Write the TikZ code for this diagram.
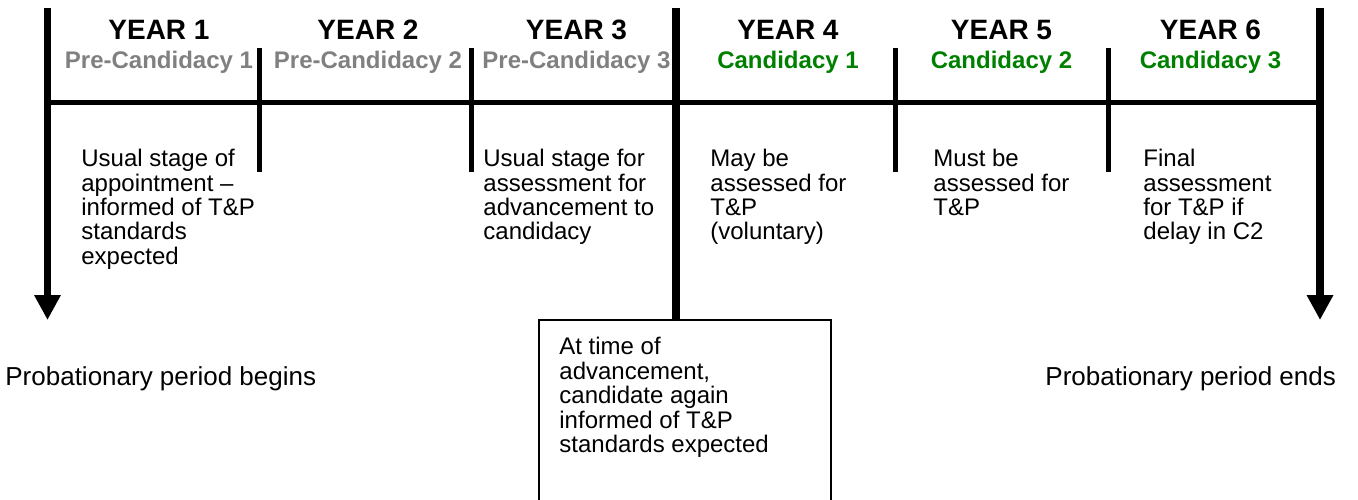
\documentclass[tikz,border=0pt]{standalone}
\usepackage{fontspec}
\setmainfont{Liberation Sans}
\usetikzlibrary{arrows.meta}
\definecolor{pregray}{RGB}{128,128,128}
\definecolor{candgreen}{RGB}{0,128,0}
\tikzset{
    every node/.style={inner sep=0pt}
}
\tikzset{
    yearlabel/.style={anchor=base, font=\bfseries\fontsize{14}{16}\selectfont},
    phaselabel/.style={anchor=base, font=\bfseries\fontsize{12}{14}\selectfont},
    note/.style={anchor=north west, align=left, font=\fontsize{12}{12.2}\selectfont},
    endlabel/.style={anchor=base west, font=\fontsize{13}{15}\selectfont},
    axis/.style={line width=3.75pt, -{Triangle[length=12.5pt,width=12.5pt]}},
    tick/.style={line width=2.5pt}
}

\begin{document}
\begin{tikzpicture}[x=0.5pt, y=-0.5pt]
  \useasboundingbox (0,0) rectangle (1358,499);
  \clip (0,0) rectangle (1358,499);

  \coordinate (start top) at (47.5,8);
  \coordinate (start tip) at (47.5,320);
  \coordinate (end top) at (1320,8);
  \coordinate (end tip) at (1320,320);
  \coordinate (mid top) at (676,8);
  \coordinate (line left) at (47.5,102);
  \coordinate (line right) at (1320,102);

  \node (adv) [draw, line width=1pt, minimum width=146pt, minimum height=120pt,
    anchor=north west] at (538,319) {};
  \node (advtext) [note] at (559,337) {At time of\\advancement,\\candidate again\\informed of T\&P\\standards expected};

  \draw [axis] (start top) -- (start tip);
  \draw [axis] (end top) -- (end tip);
  \draw [line width=3.75pt] (mid top) -- (mid top |- adv.north);
  \draw [tick] (line left) -- (line right);

  \foreach \x/\n in {259.5/1, 471.5/2, 895.5/3, 1108.5/4} {
    \coordinate (d\n a) at (\x,48);
    \coordinate (d\n b) at (\x,172);
    \draw [tick] (d\n a) -- (d\n b);
  }

  \foreach \x/\n/\c/\p in {159/1/pregray/Pre-Candidacy 1, 368/2/pregray/Pre-Candidacy 2,
      576.5/3/pregray/Pre-Candidacy 3, 788/4/candgreen/Candidacy 1,
      1001.5/5/candgreen/Candidacy 2, 1210.5/6/candgreen/Candidacy 3} {
    \node (y\n) [yearlabel] at (\x,39) {YEAR \n};
    \node (p\n) [phaselabel, text=\c] at (\x,68) {\p};
  }

  \node (n1) [note] at (81,149) {Usual stage of\\appointment --\\informed of T\&P\\standards\\expected};
  \node (n3) [note] at (483,149) {Usual stage for\\assessment for\\advancement to\\candidacy};
  \node (n4) [note] at (710,149) {May be\\assessed for\\T\&P\\(voluntary)};
  \node (n5) [note] at (933,149) {Must be\\assessed for\\T\&P};
  \node (n6) [note] at (1143,149) {Final\\assessment\\for T\&P if\\delay in C2};

  \node (pbegin) [endlabel] at (5,385) {Probationary period begins};
  \node (pend) [endlabel] at (1045,385) {Probationary period ends};
\end{tikzpicture}
\end{document}
